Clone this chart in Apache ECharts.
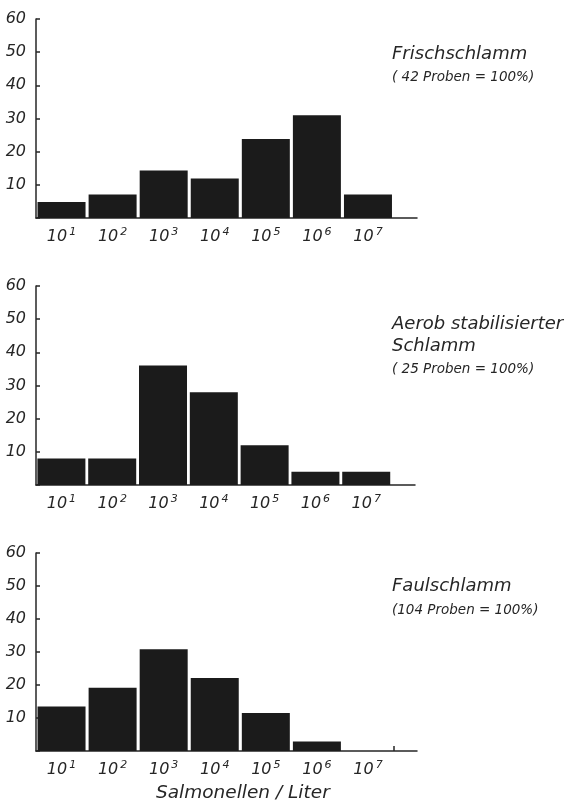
<!DOCTYPE html>
<html>
<head>
<meta charset="utf-8">
<script src="https://cdn.jsdelivr.net/npm/echarts@6/dist/echarts.min.js"></script>
<style>
  html, body { margin: 0; padding: 0; background: #fff; }
  #chart { width: 569px; height: 807px; }
</style>
</head>
<body>
<div id="chart"></div>
<script>
// Exponents of the concentration classes (10^1 … 10^7 Salmonellen / Liter)
const exponents = ['1', '2', '3', '4', '5', '6', '7'];
// Share of samples per class, in percent
const frischschlamm = [4.8, 7.1, 14.3, 11.9, 23.8, 31.0, 7.1];   // 42 Proben
const aerobSchlamm  = [8, 8, 36, 28, 12, 4, 4];                  // 25 Proben
const faulschlamm   = [13.5, 19.2, 30.8, 22.1, 11.5, 2.9, null]; // 104 Proben
const yTicks = [0, 10, 20, 30, 40, 50, 60];

const FONT = 'DejaVu Sans';
const INK = '#262626';
const BAR = '#1b1b1b';

const panels = [
  { data: frischschlamm, top: 19,  height: 199, right: 152, endTick: false },
  { data: aerobSchlamm,  top: 286, height: 199, right: 154, endTick: false },
  { data: faulschlamm,   top: 553, height: 198, right: 152, endTick: true }
];

const grids = [], xAxes = [], yAxes = [], series = [];
panels.forEach((p, k) => {
  grids.push({ left: 36, right: p.right, top: p.top, height: p.height });
  xAxes.push({
    type: 'value', gridIndex: k, min: -0.5, max: 6.96,
    axisLine: { show: true, onZero: false, lineStyle: { color: INK, width: 1.5 } },
    axisTick: p.endTick
      ? { show: true, inside: true, length: 5, customValues: [6.5], lineStyle: { color: INK, width: 1.5 } }
      : { show: false },
    splitLine: { show: false },
    axisLabel: {
      customValues: exponents.map((e, i) => i),
      margin: 9,
      formatter: v => '{b|10}{s|' + exponents[Math.round(v)] + '}',
      rich: {
        b: { fontFamily: FONT, fontStyle: 'italic', fontSize: 16, color: INK },
        s: { fontFamily: FONT, fontStyle: 'italic', fontSize: 11, color: INK, padding: [0, 0, 9, 2] }
      }
    }
  });
  yAxes.push({
    type: 'value', gridIndex: k, min: 0, max: 60, interval: 10,
    axisLine: { show: true, onZero: false, lineStyle: { color: INK, width: 1.5 } },
    axisTick: { show: true, inside: true, length: 4, lineStyle: { color: INK, width: 1.5 } },
    splitLine: { show: false },
    axisLabel: {
      margin: 10,
      fontFamily: FONT, fontStyle: 'italic', fontSize: 16, color: INK,
      formatter: v => (v === yTicks[0] ? '' : String(v))
    }
  });
  series.push({
    type: 'bar', xAxisIndex: k, yAxisIndex: k,
    barWidth: 48,
    itemStyle: { color: BAR },
    data: p.data.map((v, i) => [i, v])
  });
});

const txt = (x, y, text, size) => ({
  type: 'text', left: x, top: y,
  style: { text, fontFamily: FONT, fontStyle: 'italic', fontSize: size, fill: INK, textVerticalAlign: 'middle' }
});

const chart = echarts.init(document.getElementById('chart'), null, { renderer: 'canvas' });
chart.setOption({
  backgroundColor: '#fff',
  animation: false,
  grid: grids,
  xAxis: xAxes,
  yAxis: yAxes,
  series: series,
  graphic: [
    txt(392, 45, 'Frischschlamm', 18),
    txt(392, 70, '( 42 Proben = 100%)', 13.5),
    txt(392, 315, 'Aerob stabilisierter', 18),
    txt(392, 337, 'Schlamm', 18),
    txt(392, 362, '( 25 Proben = 100%)', 13.5),
    txt(392, 577, 'Faulschlamm', 18),
    txt(392, 603, '(104 Proben = 100%)', 13.5),
    txt(156, 784, 'Salmonellen / Liter', 18.5)
  ]
});
</script>
</body>
</html>
